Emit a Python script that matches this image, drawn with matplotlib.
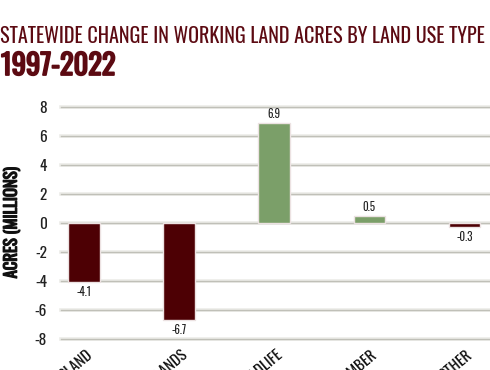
import matplotlib.pyplot as plt
from matplotlib import font_manager
from matplotlib import patheffects
from matplotlib.transforms import ScaledTranslation

# Data (millions of acres, 1997-2022)
categories = ["CROPLAND", "GRAZING LANDS", "WILDLIFE", "TIMBER", "OTHER"]
changes = [-4.1, -6.7, 6.9, 0.5, -0.3]
value_labels = ["-4.1", "-6.7", "6.9", "0.5", "-0.3"]
y_ticks = [-8, -6, -4, -2, 0, 2, 4, 6, 8]

MAROON = "#4d0004"
GREEN = "#7b9f69"
TITLE_COLOR = "#5c0a12"

names = {f.name for f in font_manager.fontManager.ttflist}
candidates = ["Oswald", "Roboto Condensed", "Fjalla One", "Archivo Narrow", "DejaVu Sans"]
FONT = next(c for c in candidates if c in names)
plt.rcParams["font.family"] = [FONT, "DejaVu Sans"]


def fake_bold(color, w=0.9):
    # Oswald here only has one weight, so thicken with a stroke
    return [patheffects.withStroke(linewidth=w, foreground=color)]


fig = plt.figure(figsize=(4.9, 3.7), dpi=100)
ax = fig.add_axes([61 / 490, 1 - 339 / 370, 1 - 61 / 490, (339 - 107) / 370])

# Title block
fig.text(0.0, 1 - 36 / 370, "STATEWIDE CHANGE IN WORKING LAND ACRES BY LAND USE TYPE",
         color=TITLE_COLOR, fontsize=14.5, va="center", ha="left")
fig.text(0.002, 1 - 66 / 370, "1997-2022", color=TITLE_COLOR, fontsize=20.5,
         fontweight="bold", va="center", ha="left",
         path_effects=fake_bold(TITLE_COLOR, 1.3))

# Gridlines
for t in y_ticks:
    ax.axhline(t, color="#ececE8", linewidth=2.6, zorder=0, clip_on=False)
    ax.axhline(t, color="#c0c0b8", linewidth=1.0, zorder=0, clip_on=False)

x = list(range(len(categories)))
colors = [GREEN if v > 0 else MAROON for v in changes]
ax.bar(x, changes, width=0.33, color=colors, edgecolor="#ece2e2",
       linewidth=1.0, zorder=2)

for xi, v, lab in zip(x, changes, value_labels):
    if v > 0:
        ax.text(xi, v + 0.2, lab, ha="center", va="bottom", fontsize=8, color="#222222")
    else:
        ax.text(xi, v - 0.25, lab, ha="center", va="top", fontsize=8, color="#222222")

ax.set_xlim(-0.24, 4.27)
ax.set_ylim(-8, 8)
ax.set_yticks(y_ticks)
ax.set_yticklabels([str(t) for t in y_ticks], fontsize=11, color="#222222")
ax.set_xticks(x)
ax.set_xticklabels(categories, rotation=40, ha="right", va="top", fontsize=11, color="#111111")
ax.tick_params(axis="both", length=0)
ax.tick_params(axis="y", pad=10)
ax.tick_params(axis="x", pad=6)
shift = ScaledTranslation(11 / 100, 0, fig.dpi_scale_trans)
for lbl in ax.get_xticklabels():
    lbl.set_transform(lbl.get_transform() + shift)
for s in ax.spines.values():
    s.set_visible(False)

ax.set_ylabel("ACRES (MILLIONS)", fontsize=12, fontweight="bold", color="#111111",
              path_effects=fake_bold("#111111", 0.9))
ax.yaxis.set_label_coords(-41 / 429, 0.5)

fig.savefig("out.png", dpi=100)
